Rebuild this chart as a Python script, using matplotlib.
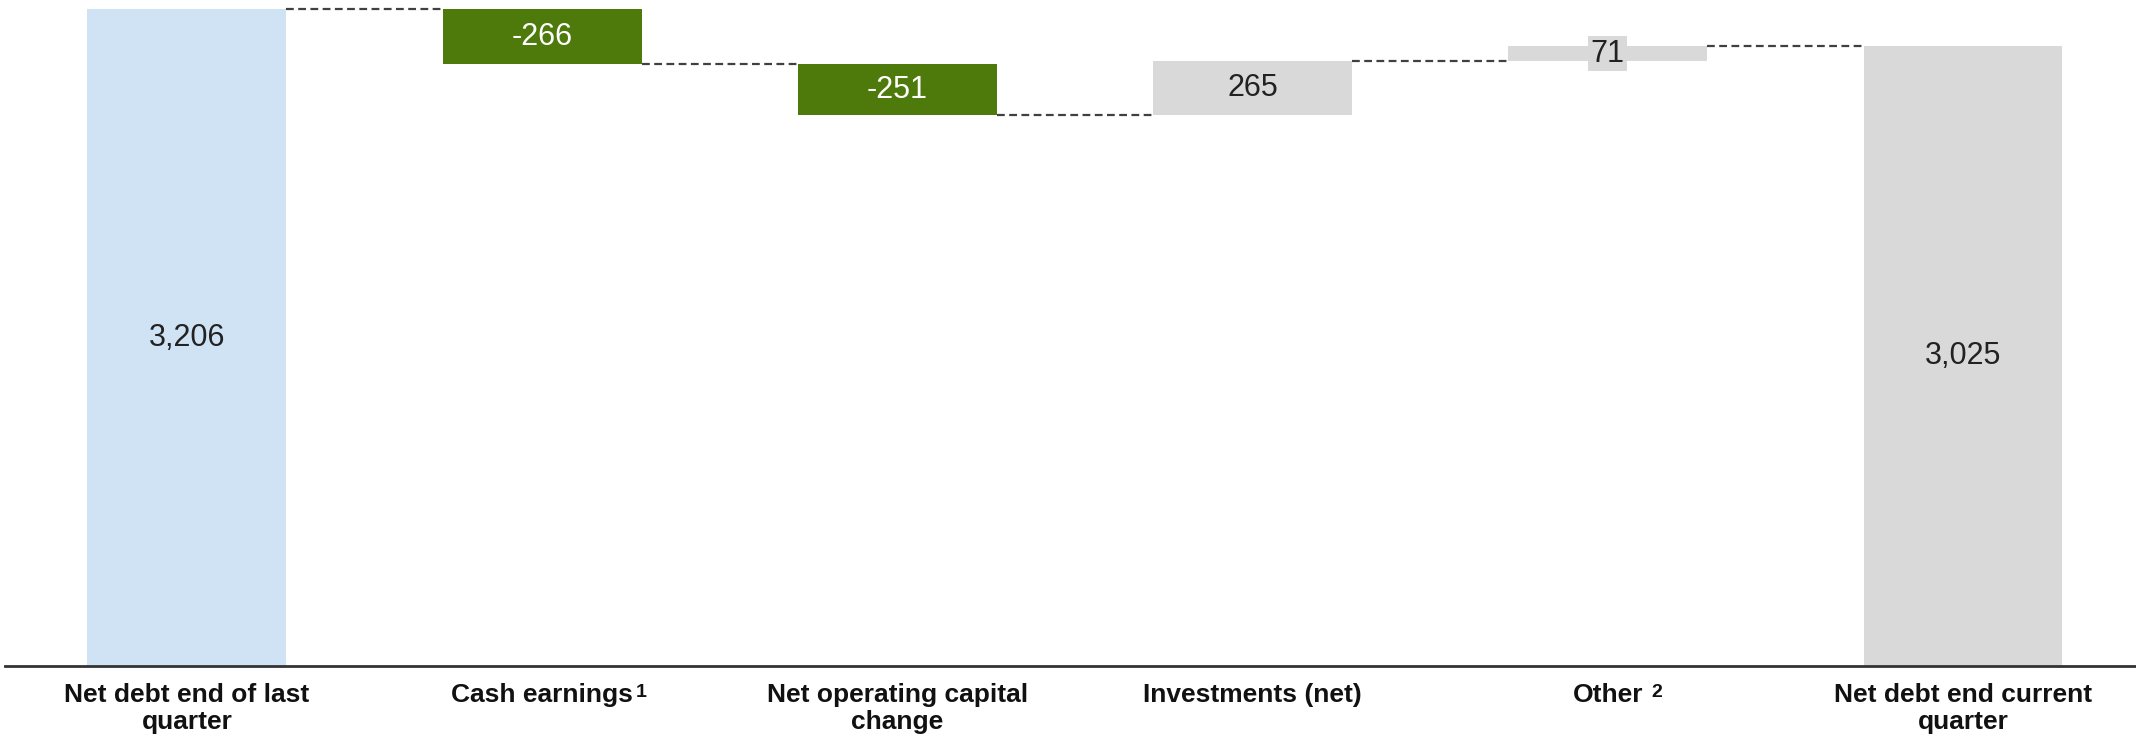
import numpy as np
import matplotlib.pyplot as plt

# ---------- DATA ----------
categories = [
    "Net debt end of last\nquarter",
    "Cash earnings",
    "Net operating capital\nchange",
    "Investments (net)",
    "Other",
    "Net debt end current\nquarter",
]
footnotes = ["", "1", "", "", "2", ""]
values = [3206, -266, -251, 265, 71, 3025]
labels = ["3,206", "-266", "-251", "265", "71", "3,025"]
kinds = ["total", "step", "step", "step", "step", "total"]

# ---------- STYLE ----------
plt.rcParams['font.family'] = ['Liberation Sans', 'DejaVu Sans']

c_start = "#D0E3F4"
c_neg = "#4E7A0C"
c_pos = "#D9D9D9"

# ---------- WATERFALL ----------
bottoms, heights, colors = [], [], []
running = 0
for i, (v, k) in enumerate(zip(values, kinds)):
    if k == "total":
        bottoms.append(0)
        heights.append(v)
        running = v
        colors.append(c_start if i == 0 else c_pos)
    else:
        new = running + v
        bottoms.append(min(running, new))
        heights.append(abs(v))
        running = new
        colors.append(c_neg if v < 0 else c_pos)

fig = plt.figure(figsize=(21.36, 7.42), dpi=100)
ax = fig.add_axes([5 / 2136, 76 / 742, 1 - 5 / 2136, 1 - 76 / 742])

x = np.arange(len(values))
w = 0.56
ax.bar(x, heights, bottom=bottoms, width=w, color=colors, zorder=2)

# connectors between bars
level = 0
for i in range(len(values) - 1):
    level = values[i] if kinds[i] == "total" else level + values[i]
    ax.plot([x[i] + w / 2, x[i + 1] - w / 2], [level, level],
            color="#404040", linestyle=(0, (3.5, 2)), linewidth=1.6, zorder=1)

# value labels
for i in range(len(values)):
    yc = bottoms[i] + heights[i] / 2
    if colors[i] == c_neg:
        ax.text(x[i], yc, labels[i], ha='center', va='center', fontsize=22,
                color='white', zorder=3)
    elif i == 4:
        # thin bar: label sits on its own grey box
        ax.text(x[i], yc, labels[i], ha='center', va='center', fontsize=22,
                color='#222222', zorder=3,
                bbox=dict(boxstyle='square,pad=0.08', facecolor=c_pos,
                          edgecolor='none'))
    else:
        ax.text(x[i], yc, labels[i], ha='center', va='center', fontsize=22,
                color='#222222', zorder=3)

ax.set_xlim(-0.512, 5.487)
ax.set_ylim(0, 3252)
ax.set_xticks(x)
ax.set_xticklabels(categories, fontsize=19, fontweight='bold', color='#111111',
                   linespacing=1.2)
ax.tick_params(axis='x', length=0, pad=12)

# footnote markers next to the tick labels
for lbl, note in zip(ax.get_xticklabels(), footnotes):
    if note:
        gap = 2 if note == "1" else 6
        ax.annotate(note, xy=(1, 1), xycoords=lbl, xytext=(gap, -1),
                    textcoords='offset points', ha='left', va='top',
                    fontsize=14, fontweight='bold', color='#111111')

ax.set_yticks([])
for s in ['top', 'right', 'left']:
    ax.spines[s].set_visible(False)
ax.spines['bottom'].set_color('#333333')
ax.spines['bottom'].set_linewidth(2)

plt.savefig("out.png", dpi=100)
